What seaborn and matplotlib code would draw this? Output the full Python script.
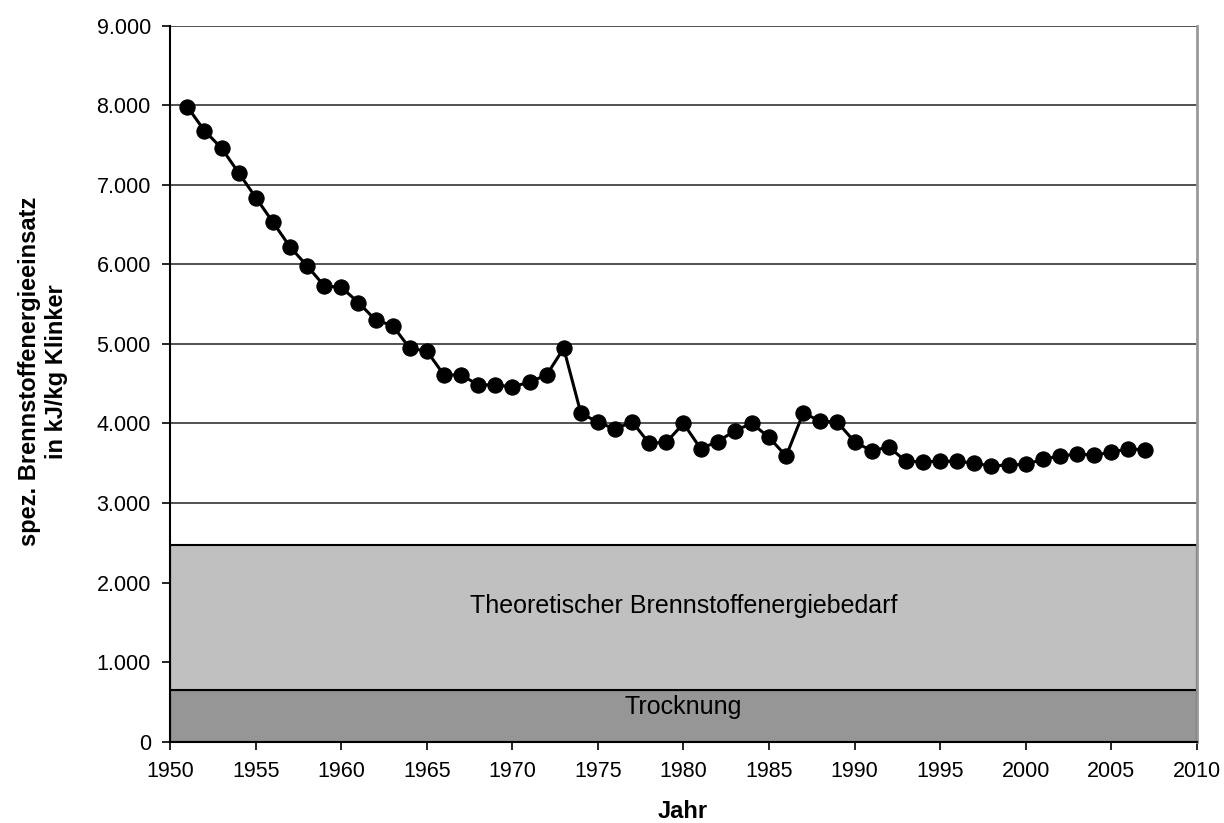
import matplotlib
matplotlib.use("Agg")
import matplotlib.pyplot as plt
from matplotlib.ticker import FuncFormatter, MultipleLocator
import seaborn as sns
import pandas as pd

# Spez. Brennstoffenergieeinsatz in kJ/kg Klinker
years = list(range(1951, 2008))
energy = [7980, 7680, 7460, 7150, 6840, 6530, 6220, 5980, 5730, 5710,
          5520, 5300, 5230, 4945, 4910, 4610, 4610, 4485, 4485, 4460,
          4520, 4610, 4945, 4130, 4015, 3930, 4020, 3750, 3765, 4000,
          3685, 3770, 3910, 4000, 3825, 3590, 4130, 4030, 4015, 3770,
          3655, 3705, 3525, 3520, 3525, 3525, 3500, 3465, 3480, 3485,
          3550, 3590, 3615, 3605, 3635, 3685, 3665]

# Untere Bänder
drying_top = 650
theory_top = 2470
band_labels = ["Trocknung", "Theoretischer Brennstoffenergiebedarf"]

df = pd.DataFrame({"Jahr": years, "Energie": energy})

sns.set_style("white")
plt.rcParams["font.family"] = ["Liberation Sans", "DejaVu Sans"]
plt.rcParams["text.color"] = "black"
plt.rcParams["xtick.color"] = "black"
plt.rcParams["ytick.color"] = "black"

fig = plt.figure(figsize=(12.24, 8.23), dpi=100)
ax = fig.add_axes([0.1391, 0.0988, 0.8386, 0.8700])

ax.set_xlim(1950, 2010)
ax.set_ylim(0, 9000)

# grid lines first, bands above them
ax.yaxis.set_major_locator(MultipleLocator(1000))
ax.xaxis.set_major_locator(MultipleLocator(5))
ax.grid(axis="y", color="#333333", linewidth=1.2, zorder=0)
ax.set_axisbelow(True)

ax.fill_between([1950, 2010], 0, drying_top, facecolor="#969696",
                edgecolor="black", linewidth=1.5, zorder=2)
ax.fill_between([1950, 2010], drying_top, theory_top, facecolor="#C0C0C0",
                edgecolor="black", linewidth=1.5, zorder=2)
ax.text(1980, 430, band_labels[0], ha="center", va="center",
        fontsize=18, zorder=3)
ax.text(1980, 1710, band_labels[1], ha="center", va="center",
        fontsize=18, zorder=3)

sns.lineplot(data=df, x="Jahr", y="Energie", ax=ax, color="black",
             linewidth=2.2, marker="o", markersize=11, markeredgecolor="black",
             markerfacecolor="black", zorder=4)

ax.yaxis.set_major_formatter(FuncFormatter(lambda v, p: f"{int(v):,}".replace(",", ".")))
ax.tick_params(axis="both", direction="out", length=6, width=1.2,
               labelsize=15.5, pad=8)
ax.tick_params(left=True, bottom=True)

for side in ["left", "bottom"]:
    ax.spines[side].set_color("black")
    ax.spines[side].set_linewidth(1.5)
ax.spines["top"].set_visible(False)
ax.spines["right"].set_color("#999999")
ax.spines["right"].set_linewidth(2)

ax.set_xlabel("")
ax.set_ylabel("")
fig.text(0.035, 0.549, "spez. Brennstoffenergieeinsatz\nin kJ/kg Klinker",
         rotation=90, ha="center", va="center", multialignment="center",
         fontsize=17, fontweight="bold")
fig.text(0.558, 0.014, "Jahr", ha="center", va="center",
         fontsize=17, fontweight="bold")

fig.savefig("out.png", dpi=100)
